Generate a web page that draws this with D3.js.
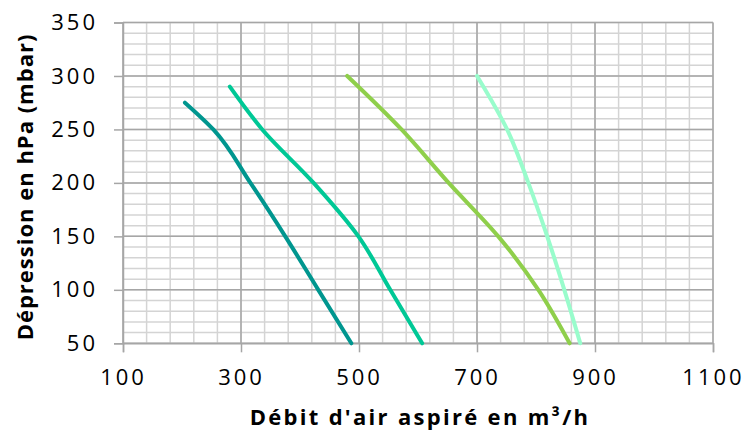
<!DOCTYPE html>
<html>
<head>
<meta charset="utf-8">
<script src="https://cdn.jsdelivr.net/npm/d3@7"></script>
<style>
  html, body { margin: 0; padding: 0; background: #fff; }
  text { font-family: "Open Sans", "DejaVu Sans", sans-serif; fill: #000; }
</style>
</head>
<body>
<div id="chart"></div>
<script>
// debit (m3/h) vs depression (mbar), one array per curve
var curve1Flow = [205, 253, 316, 375, 431, 487];
var curve1Dep  = [275, 250, 200, 150, 100, 50];
var curve2Flow = [281, 336, 423, 499, 553, 607];
var curve2Dep  = [290, 250, 200, 150, 100, 50];
var curve3Flow = [480, 572, 652, 736, 804, 857];
var curve3Dep  = [300, 250, 200, 150, 100, 50];
var curve4Flow = [700, 751, 787, 819, 848, 875];
var curve4Dep  = [300, 250, 200, 150, 100, 50];
var colors = ["#00968f", "#00c896", "#8fcf4b", "#99fccc"];

var xTicks = [100, 300, 500, 700, 900, 1100];
var yTicks = [50, 100, 150, 200, 250, 300, 350];

var W = 746, H = 432;
var svg = d3.select("#chart").append("svg").attr("width", W).attr("height", H);

var x = d3.scaleLinear().domain([100, 1100]).range([123, 713]);
var y = d3.scaleLinear().domain([50, 350]).range([343.3, 22.5]);

var grid = svg.append("g");
// minor grid
grid.selectAll("line.mx").data(d3.range(100, 1101, 40)).enter().append("line")
    .attr("x1", function (d) { return x(d); }).attr("x2", function (d) { return x(d); })
    .attr("y1", y(50)).attr("y2", y(350))
    .style("stroke", "#d4d4d4").style("stroke-width", 1.5);
grid.selectAll("line.my").data(d3.range(50, 351, 10)).enter().append("line")
    .attr("y1", function (d) { return y(d); }).attr("y2", function (d) { return y(d); })
    .attr("x1", x(100)).attr("x2", x(1100))
    .style("stroke", "#d4d4d4").style("stroke-width", 1.5);
// major grid
grid.selectAll("line.Mx").data(xTicks).enter().append("line")
    .attr("x1", function (d) { return x(d); }).attr("x2", function (d) { return x(d); })
    .attr("y1", y(50)).attr("y2", y(350))
    .style("stroke", "#a6a6a6").style("stroke-width", 1.5);
grid.selectAll("line.My").data(yTicks).enter().append("line")
    .attr("y1", function (d) { return y(d); }).attr("y2", function (d) { return y(d); })
    .attr("x1", x(100)).attr("x2", x(1100))
    .style("stroke", "#a6a6a6").style("stroke-width", 1.5);

// axes
var xAxis = svg.append("g").attr("transform", "translate(0," + y(50) + ")")
    .call(d3.axisBottom(x).tickValues(xTicks).tickFormat(d3.format("d")).tickSize(9).tickPadding(17));
var yAxis = svg.append("g").attr("transform", "translate(" + x(100) + ",0)")
    .call(d3.axisLeft(y).tickValues(yTicks).tickFormat(d3.format("d")).tickSize(9).tickPadding(16));
[xAxis, yAxis].forEach(function (a) {
    a.select(".domain").style("stroke", "#a6a6a6").style("stroke-width", 1.5);
    a.selectAll(".tick line").style("stroke", "#a6a6a6").style("stroke-width", 1.5);
    a.selectAll(".tick text").style("font-size", "22px").style("font-family", "'Open Sans', sans-serif")
        .style("letter-spacing", "3px").attr("fill", "#000");
});
xAxis.selectAll(".tick text").attr("dy", "0.71em");

// curves
var line = d3.line()
    .x(function (d) { return x(d[0]); })
    .y(function (d) { return y(d[1]); })
    .curve(d3.curveMonotoneY);
var series = [
    d3.zip(curve1Flow, curve1Dep),
    d3.zip(curve2Flow, curve2Dep),
    d3.zip(curve3Flow, curve3Dep),
    d3.zip(curve4Flow, curve4Dep)
];
svg.selectAll("path.curve").data(series).enter().append("path")
    .attr("class", "curve")
    .attr("d", line)
    .style("fill", "none")
    .style("stroke", function (d, i) { return colors[i]; })
    .style("stroke-width", 4)
    .style("stroke-linecap", "round");

// titles
svg.append("text")
    .attr("x", 420).attr("y", 425)
    .attr("text-anchor", "middle")
    .style("font-size", "22px").style("font-weight", "bold").style("letter-spacing", "2.3px")
    .text("Débit d'air aspiré en m³/h");
svg.append("text")
    .attr("transform", "translate(33," + 187 + ") rotate(-90)")
    .attr("text-anchor", "middle")
    .style("font-size", "22px").style("font-weight", "bold").style("letter-spacing", "1px")
    .text("Dépression en hPa (mbar)");
</script>
</body>
</html>
